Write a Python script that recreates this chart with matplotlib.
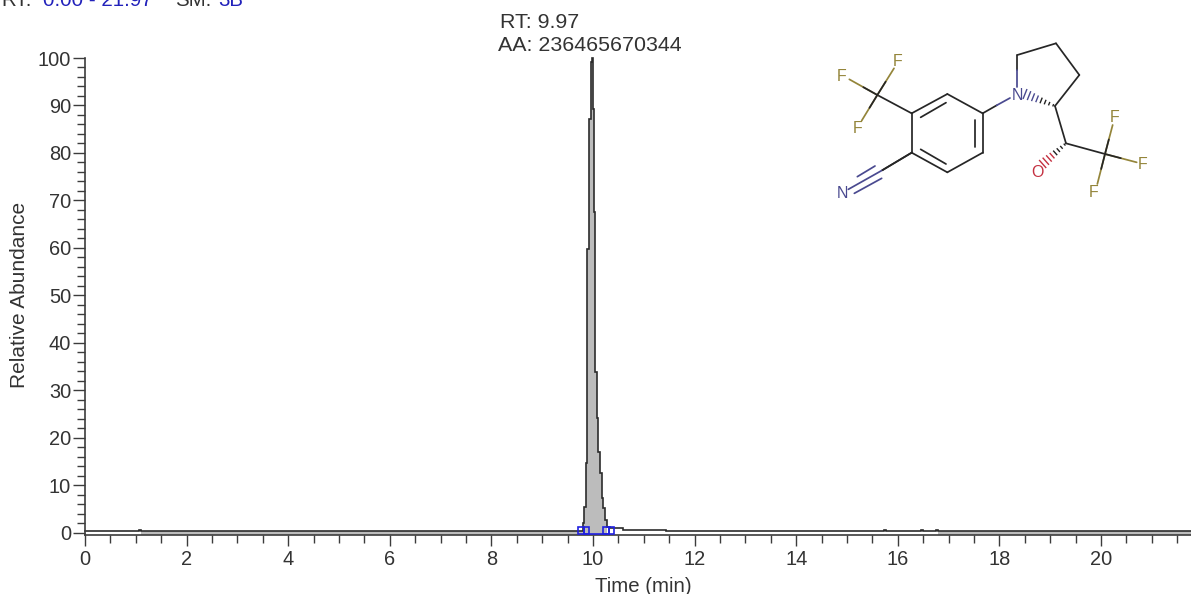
import numpy as np
import matplotlib
matplotlib.use("Agg")
import matplotlib.pyplot as plt
from matplotlib.patches import Rectangle
from matplotlib.ticker import MultipleLocator

plt.rcParams['font.family'] = ['Liberation Sans', 'DejaVu Sans']

# ---- chromatogram values (step trace) ----
time_min = [0, 1.06, 1.10, 9.797, 9.829, 9.856, 9.888, 9.921, 9.955, 9.98, 9.994, 10.02, 10.045,
            10.073, 10.098, 10.138, 10.171, 10.197, 10.236, 10.281, 10.335, 10.60, 11.44,
            15.73, 15.77, 16.45, 16.50, 16.76, 16.80, 21.77]
abundance = [0.36, 0.65, 0.36, 2.0, 5.4, 14.7, 59.7, 87.1, 99.2, 100.0, 89.2, 67.5, 33.9,
             24.2, 17.0, 12.6, 7.3, 5.2, 2.6, 1.2, 0.9, 0.55, 0.36,
             0.65, 0.36, 0.65, 0.36, 0.65, 0.36, 0.36]
filled = [1, 0, 1, 1, 1, 1, 1, 1, 1, 1, 1, 1, 1, 1, 1, 1, 1, 1, 1, 1, 0, 0, 1, 0, 1, 0, 1, 0, 1, 1]
peak_marks = [9.82, 10.31]

header_parts = [("RT:", "#333333"), ("0.00 - 21.97", "#2222bb"), ("SM:", "#333333"), ("3B", "#2222bb")]
peak_label = ["RT: 9.97", "AA: 236465670344"]
x_major = np.arange(0, 22, 2)
y_major = np.arange(0, 101, 10)

# ---- molecule (inset drawing units) ----
black_bonds = [((172, 195), (275, 250)), ((275, 250), (382, 192)), ((382, 192), (488, 250)),
               ((488, 250), (488, 368)), ((488, 368), (382, 427)), ((382, 427), (275, 368)),
               ((275, 368), (275, 250)), ((302, 262), (378, 218)), ((465, 270), (465, 350)),
               ((302, 358), (378, 402)), ((275, 368), (188, 420)), ((592, 120), (592, 75)),
               ((592, 75), (708, 40)), ((708, 40), (778, 135)), ((778, 135), (705, 228)),
               ((705, 228), (738, 340)), ((738, 340), (855, 372)), ((488, 250), (530, 226))]
fluoro_bonds = [((172, 195), (222, 115)), ((172, 195), (88, 148)), ((172, 195), (125, 272)),
                ((855, 372), (878, 285)), ((855, 372), (950, 397)), ((855, 372), (832, 462))]
nitro_bonds = [((530, 226), (570, 204)), ((592, 120), (592, 170)), ((188, 420), (85, 478)),
               ((112, 440), (165, 408)), ((103, 490), (185, 445))]
atom_labels = [("F", 232, 95, "#94853a"), ("F", 66, 140, "#94853a"), ("F", 112, 296, "#94853a"),
               ("F", 884, 262, "#94853a"), ("F", 968, 404, "#94853a"), ("F", 822, 487, "#94853a"),
               ("N", 592, 195, "#4a4a90"), ("N", 68, 490, "#4a4a90"), ("O", 652, 427, "#c43040")]
hash_wedges = [((705, 228), (615, 192), "#222222", "#4a4a90"), ((738, 340), (668, 402), "#222222", "#c43040")]

W, H = 1191, 594
INK = "#333333"
fig = plt.figure(figsize=(W / 100, H / 100), dpi=100, facecolor="white")


def box(l, t, r, b):
    return [l / W, 1 - b / H, (r - l) / W, (b - t) / H]


ax = fig.add_axes(box(85, 58, 1191, 534.5))
t = np.array(time_min)
a = np.array(abundance)
ax.fill_between(t, -0.38, a, where=np.array(filled, bool), step="post", color="#bcbcbc", lw=0, zorder=1)
ax.step(t, a, where="post", color="#2c2c2c", lw=1.2, zorder=2, clip_on=False, solid_joinstyle="miter")
for m in peak_marks:
    for x0 in (m - 0.11, m):
        ax.add_patch(Rectangle((x0, -0.3), 0.11, 1.5, fill=False, ec="#2020e0", lw=1.2, zorder=3, clip_on=False))
ax.plot(peak_marks, [-0.3, -0.3], color="#2020e0", lw=1.2, zorder=3, clip_on=False)

ax.set_xlim(0, (1191 - 85) / 50.8)
ax.set_ylim(-0.38, 100)
for s in ("top", "right"):
    ax.spines[s].set_visible(False)
for s in ("left", "bottom"):
    ax.spines[s].set_color("#3c3c3c")
    ax.spines[s].set_linewidth(1.2)
ax.set_xticks(x_major)
ax.set_yticks(y_major)
ax.xaxis.set_minor_locator(MultipleLocator(0.5))
ax.yaxis.set_minor_locator(MultipleLocator(2))
ax.tick_params(axis="x", which="major", length=8, width=1.0, color="#3c3c3c", labelsize=14.4, labelcolor=INK, pad=3)
ax.tick_params(axis="x", which="minor", length=5.5, width=1.0, color="#3c3c3c")
ax.tick_params(axis="y", which="major", length=8.5, width=1.0, color="#3c3c3c", labelsize=14.4, labelcolor=INK, pad=1.5)
ax.tick_params(axis="y", which="minor", length=5.5, width=1.0, color="#3c3c3c")
ax.set_facecolor("none")

fig.text(19.5 / W, 1 - 295 / H, "Relative Abundance", rotation=90, ha="center", va="center", fontsize=15, color=INK)
fig.text(643 / W, 1 - 586 / H, "Time (min)", ha="center", va="center", fontsize=14.7, color=INK)
fig.text(500.5 / W, 1 - 28 / H, peak_label[0], ha="left", va="baseline", fontsize=15.4, color=INK)
fig.text(498.5 / W, 1 - 51 / H, peak_label[1], ha="left", va="baseline", fontsize=15.4, color=INK)

for (txt, col), px in zip(header_parts, (1, 43, 175, 218)):
    fig.text(px / W, 1 - 6 / H, txt, ha="left", va="baseline", fontsize=14.8, color=col)

mol = fig.add_axes(box(820, 30, 1160, 210))
mol.set_xlim(0, 1020)
mol.set_ylim(540, 0)
mol.axis("off")
for bonds, col in ((black_bonds, "#262626"), (fluoro_bonds, "#94853a"), (nitro_bonds, "#4a4a90")):
    for (p, q) in bonds:
        mol.plot([p[0], q[0]], [p[1], q[1]], color=col, lw=1.25, solid_capstyle="round")
for (p, q) in fluoro_bonds:
    mid = ((p[0] + q[0]) / 2, (p[1] + q[1]) / 2)
    mol.plot([p[0], mid[0]], [p[1], mid[1]], color="#262626", lw=1.25, solid_capstyle="round")
mol.plot([275, 188], [368, 420], color="#262626", lw=1.25)
for (p, q, c0, c1) in hash_wedges:
    p, q = np.array(p, float), np.array(q, float)
    d = q - p
    n = np.array([-d[1], d[0]]) / np.hypot(*d)
    for f in np.linspace(0.06, 1, 8):
        c = p + d * f
        half = 13 * f + 1
        mol.plot([c[0] - n[0] * half, c[0] + n[0] * half], [c[1] - n[1] * half, c[1] + n[1] * half],
                 color=c0 if f < 0.5 else c1, lw=1.0)
for s, x, y, col in atom_labels:
    mol.text(x, y, s, color=col, fontsize=11.5, ha="center", va="center")

fig.savefig("out.png", dpi=100)
